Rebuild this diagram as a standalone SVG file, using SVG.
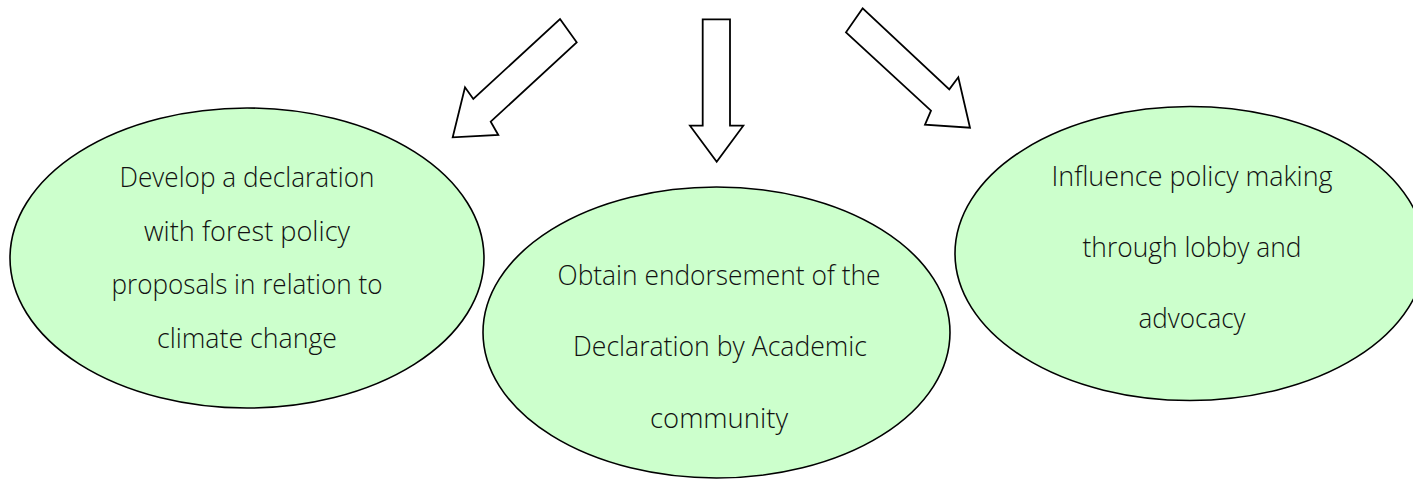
<svg xmlns="http://www.w3.org/2000/svg" width="1413" height="480" viewBox="0 0 1413 480">
<style>
.node{fill:#ccffcc;stroke:#000;stroke-width:1.6}
.arrow{fill:#fff;stroke:#000;stroke-width:1.8;stroke-linejoin:miter}
.lbl{font-family:"Open Sans","DejaVu Sans",sans-serif;font-weight:300;font-size:28px;fill:#111;text-anchor:middle}
</style>
<rect width="1413" height="480" fill="#fff"/>
<g id="connectors">
<polygon class="arrow" points="560,19 576.7,42.3 490.7,121.7 498.3,135 452.7,137.3 465,87.3 473.3,99"/>
<polygon class="arrow" points="702.7,19.3 730,19.3 730,125.7 743.3,125.7 716.7,161.7 690,125.7 702.7,125.7"/>
<polygon class="arrow" points="862.7,8.3 846,32.3 931,110.7 925,124.7 970,127.7 958.3,77.3 949.3,89.3"/>
</g>
<g id="node-develop">
<ellipse class="node" cx="247" cy="258" rx="237" ry="150"/>
<text class="lbl" x="247" y="187" textLength="255" lengthAdjust="spacingAndGlyphs">Develop a declaration</text>
<text class="lbl" x="247" y="241" textLength="206" lengthAdjust="spacingAndGlyphs">with forest policy</text>
<text class="lbl" x="247" y="294" textLength="271" lengthAdjust="spacingAndGlyphs">proposals in relation to</text>
<text class="lbl" x="247" y="348" textLength="180" lengthAdjust="spacingAndGlyphs">climate change</text>
</g>
<g id="node-influence">
<ellipse class="node" cx="1190" cy="253.5" rx="235" ry="147"/>
<text class="lbl" x="1192" y="186" textLength="281" lengthAdjust="spacingAndGlyphs">Influence policy making</text>
<text class="lbl" x="1192" y="257" textLength="219" lengthAdjust="spacingAndGlyphs">through lobby and</text>
<text class="lbl" x="1192" y="328" textLength="107" lengthAdjust="spacingAndGlyphs">advocacy</text>
</g>
<g id="node-obtain">
<ellipse class="node" cx="716.5" cy="332.5" rx="233.5" ry="145.5"/>
<text class="lbl" x="719" y="285" textLength="323" lengthAdjust="spacingAndGlyphs">Obtain endorsement of the</text>
<text class="lbl" x="720" y="356" textLength="294" lengthAdjust="spacingAndGlyphs">Declaration by Academic</text>
<text class="lbl" x="719" y="428" textLength="138" lengthAdjust="spacingAndGlyphs">community</text>
</g>
</svg>
